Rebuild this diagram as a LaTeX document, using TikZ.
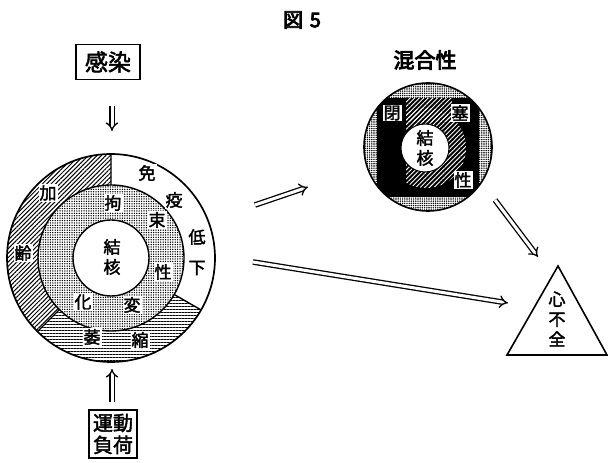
\documentclass[tikz,border=0pt]{standalone}
\usepackage{fontspec}
\newfontfamily\jp{Noto Sans CJK JP}[FakeBold=2.2]
\newfontfamily\jpb{Noto Sans CJK JP}[FakeBold=4]
\usetikzlibrary{patterns.meta,arrows.meta,calc}
\begin{document}
\begin{tikzpicture}[x=1pt,y=1pt,
  lab/.style={font=\jp\fontsize{17}{17}\selectfont, fill=white, inner sep=1pt},
  plain/.style={font=\jp\fontsize{17}{20}\selectfont, align=center, inner sep=0pt},
  box/.style={draw, line width=1.6pt, font=\jp\fontsize{23}{24}\selectfont, align=center, inner xsep=9pt, inner ysep=7pt},
  dbl/.style={double, double distance=3pt, line width=1.3pt, -{Implies[length=6pt]}},
  thickline/.style={line width=1.4pt}]
\useasboundingbox (0,0) rectangle (608,463);

% title
\node[font=\jpb\fontsize{20}{20}\selectfont] (title) at (302,443) {図\,\,5};

% big circle
\begin{scope}[shift={(111,205)}]
  \fill[pattern={Lines[angle=45,distance=3.1pt,line width=1pt]}]
    (90:104) arc[start angle=90,end angle=225,radius=104] -- (225:73)
    arc[start angle=225,end angle=90,radius=73] -- cycle;
  \fill[pattern={Lines[angle=0,distance=3pt,line width=1pt]}]
    (225:104) arc[start angle=225,end angle=330,radius=104] -- (330:73)
    arc[start angle=330,end angle=225,radius=73] -- cycle;
  \fill[pattern={Dots[distance=2.4pt,radius=0.75pt]}, even odd rule]
    (0,0) circle[radius=73] (0,0) circle[radius=38];
  \draw[line width=1.7pt] (0,0) circle[radius=104];
  \draw[thickline] (0,0) circle[radius=73] (0,0) circle[radius=38];
  \draw[thickline] (90:73)--(90:104) (225:73)--(225:104) (330:73)--(330:104);
\end{scope}
\node[circle, minimum size=208pt, inner sep=0pt] (big) at (111,205) {};

% outer ring labels
\node[lab] (l1) at (147,290) {免};
\node[lab] (l2) at (174,263) {疫};
\node[lab] (l3) at (197,226) {低};
\node[lab] (l4) at (197,195) {下};
\node[lab] (l5) at (48,270) {加};
\node[lab] (l6) at (23,210) {齢};
\node[lab] (l7) at (92,126) {萎};
\node[lab] (l8) at (140,123) {縮};
% middle ring labels
\node[lab] (m1) at (113,260) {拘};
\node[lab] (m2) at (157,243) {束};
\node[lab] (m3) at (163,191) {性};
\node[lab] (m4) at (132,158) {変};
\node[lab] (m5) at (83,161) {化};
\node[plain] (core) at (112,206) {結\\核};

% input boxes
\node[box] (kansen) at (108,401) {感染};
\node[box, font=\jp\fontsize{20}{22}\selectfont, inner xsep=4pt, inner ysep=4pt] (undo) at (113,29) {運動\\負荷};
\coordinate (d1) at (112,357);
\coordinate (d2) at (112,332);
\coordinate (u1) at (112,61);
\coordinate (u2) at (112,94);
\draw[dbl] (d1) -- (d2);
\draw[dbl] (u1) -- (u2);

% right circle
\node[font=\jpb\fontsize{21}{21}\selectfont] (mixtitle) at (425,403) {混合性};
\begin{scope}[shift={(428,316)}]
  \fill[pattern={Dots[distance=2.2pt,radius=0.8pt]}] (0,0) circle[radius=64];
  \begin{scope}
    \clip (0,0) circle[radius=64];
    \fill[black] (-51,-50) rectangle (51,49);
    \begin{scope}
      \clip (-22,-50) rectangle (40,25) (-22,25) rectangle (24,49);
      \fill[pattern={Lines[angle=45,distance=3.2pt,line width=0.9pt]}, pattern color=white]
        (-22,25) rectangle (24,49);
      \fill[pattern={Lines[angle=45,distance=3.2pt,line width=0.9pt]}, pattern color=white]
        (-2,-1) circle[radius=40];
    \end{scope}
  \end{scope}
  \draw[line width=1.6pt] (0,0) circle[radius=64];
  \fill[white] (-3,-1) circle[radius=24];
  \draw[line width=1pt] (-3,-1) circle[radius=24];
\end{scope}
\node[circle, minimum size=128pt, inner sep=0pt] (mix) at (428,316) {};
\node[plain] (core2) at (425,315) {結\\核};
\node[lab] (r1) at (392,350) {閉};
\node[lab] (r2) at (460,350) {塞};
\node[lab] (r3) at (463,283) {性};

% triangle
\coordinate (t1) at (558,197);
\coordinate (t2) at (507,108);
\coordinate (t3) at (607,108);
\draw[line width=1.6pt, line join=miter] (t1) -- (t2) -- (t3) -- cycle;
\node[plain] (heart) at (557,144) {心\\不\\全};

% arrows
\coordinate (a1s) at (255,258);
\coordinate (a1e) at (308,276);
\coordinate (a2s) at (253,201);
\coordinate (a2e) at (508,160);
\coordinate (a3s) at (495,263);
\coordinate (a3e) at (538,206);
\draw[dbl] (a1s) -- (a1e);
\draw[dbl] (a2s) -- (a2e);
\draw[dbl] (a3s) -- (a3e);
\end{tikzpicture}
\end{document}
